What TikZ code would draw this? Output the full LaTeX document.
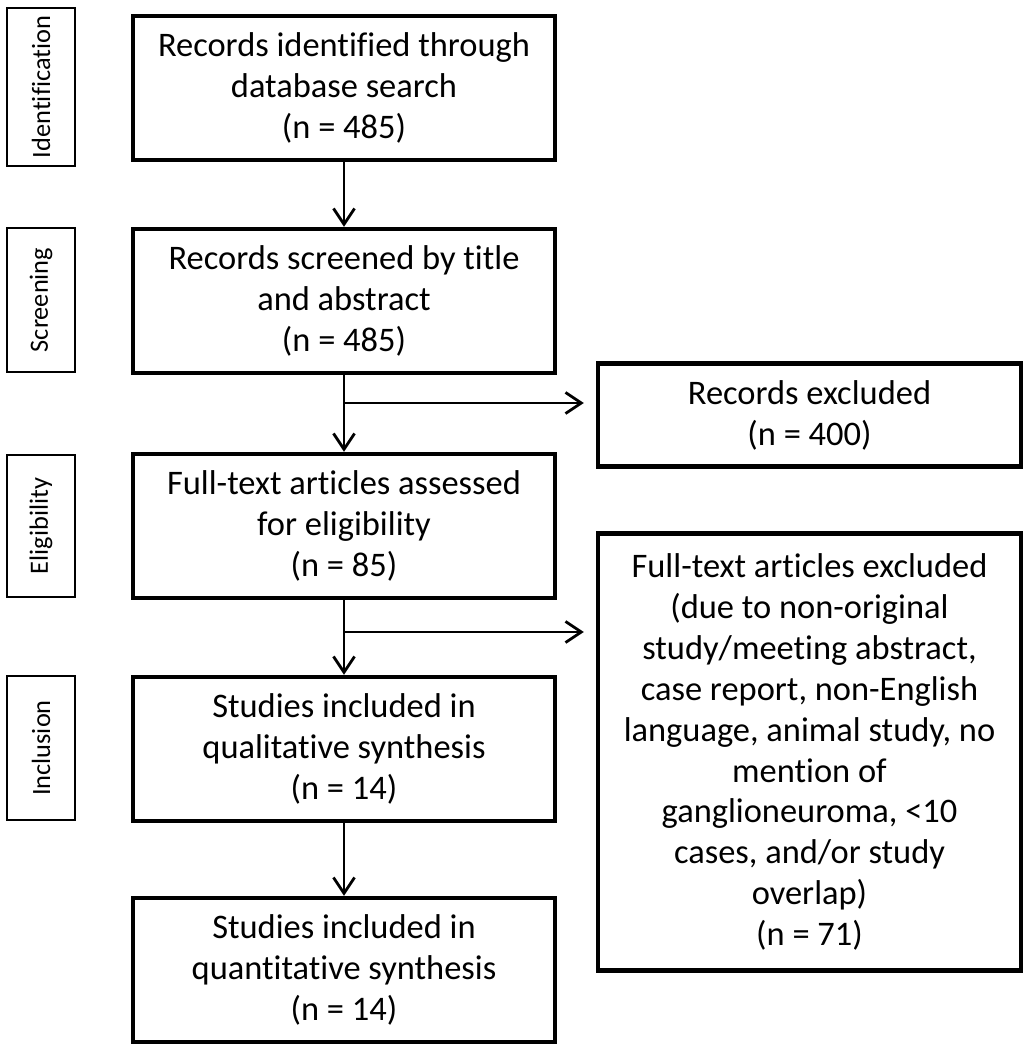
\documentclass[tikz,border=0pt]{standalone}
\usepackage{fontspec}
\setmainfont{Carlito}[Ligatures={NoCommon,NoContextual,NoRare}]
\usetikzlibrary{arrows.meta}
\begin{document}
\begin{tikzpicture}[x=0.02cm,y=-0.02cm,
  box/.style={draw,line width=2.5pt,align=center,minimum width=8.44cm,minimum height=2.88cm,inner sep=0pt,font=\fontsize{19.6}{23.3}\selectfont},
  side/.style={draw,line width=0.8pt,rotate=90,minimum height=1.36cm,inner sep=0pt,font=\fontsize{15}{18}\selectfont},
  arr/.style={line width=1.6pt,-{Straight Barb[length=9pt,width=12pt,line width=1.6pt]}}]
\useasboundingbox (0,0) rectangle (1030,1050);
\foreach \lab/\y/\h in {Identification/87/3.16,Screening/300/2.88,Eligibility/526/2.84,Inclusion/748/2.88}
  \node[side,minimum width=\h cm] (\lab) at (41,\y) {\lab};
\node[box] (found) at (344,88) {Records identified through\\database search\\(n = 485)};
\node[box] (screen) at (344,301) {Records screened by title\\and abstract\\(n = 485)};
\node[box] (full) at (344,526) {Full-text articles assessed\\for eligibility\\(n = 85)};
\node[box] (qual) at (344,749) {Studies included in\\qualitative synthesis\\(n = 14)};
\node[box] (quant) at (344,970) {Studies included in\\quantitative synthesis\\(n = 14)};
\node[box,minimum width=8.46cm,minimum height=2.06cm] (excl) at (809.5,415) {Records excluded\\(n = 400)};
\node[box,minimum width=8.46cm,minimum height=8.74cm] (fullexcl) at (809.5,752) {Full-text articles excluded\\(due to non-original\\study/meeting abstract,\\case report, non-English\\language, animal study, no\\mention of\\ganglioneuroma, <10\\cases, and/or study\\overlap)\\(n = 71)};
\draw[arr] (found) -- (screen);
\draw[arr] (screen) -- (full);
\draw[arr] (full) -- (qual);
\draw[arr] (qual) -- (quant);
\coordinate (b1) at (344,403);
\coordinate (b2) at (344,632);
\draw[arr,shorten >=0.24cm] (b1) -- (b1 -| excl.west);
\draw[arr,shorten >=0.24cm] (b2) -- (b2 -| fullexcl.west);
\end{tikzpicture}
\end{document}
